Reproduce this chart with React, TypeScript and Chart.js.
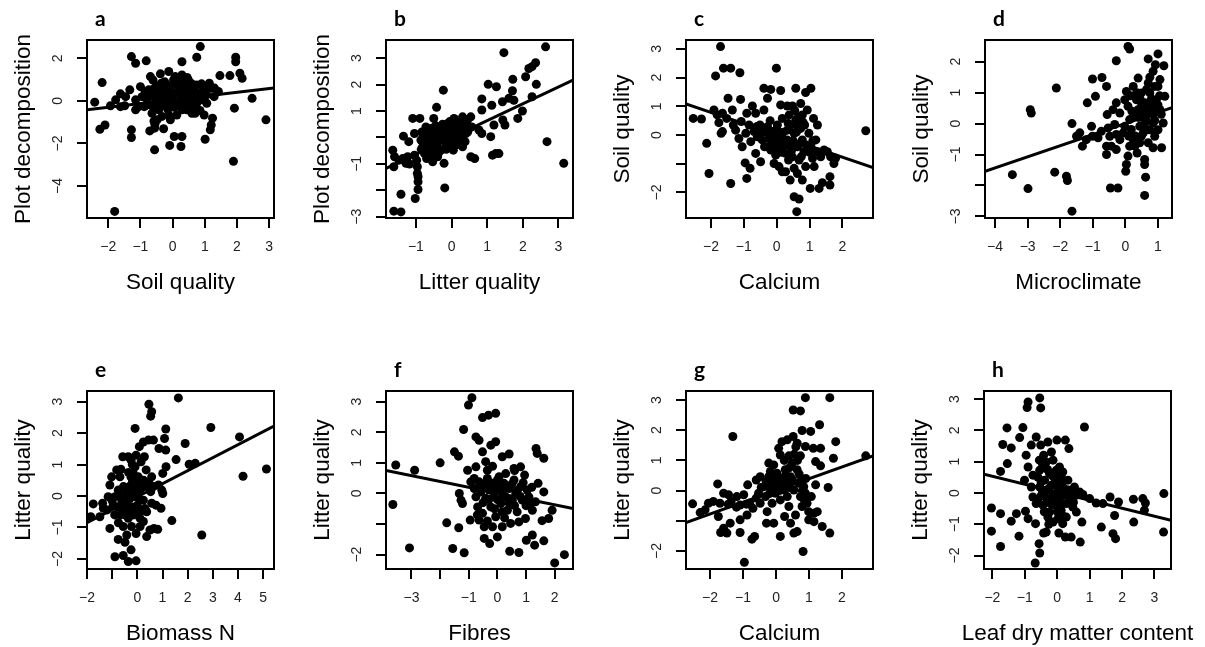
import React, { useEffect, useRef } from "react";
import { Chart, registerables } from "chart.js";

Chart.register(...registerables);

// ---------- DATA ----------
const panelLetters = ["a", "b", "c", "d", "e", "f", "g", "h"];
const xTitles = ["Soil quality", "Litter quality", "Calcium", "Microclimate", "Biomass N", "Fibres", "Calcium", "Leaf dry matter content"];
const yTitles = ["Plot decomposition", "Plot decomposition", "Soil quality", "Soil quality", "Litter quality", "Litter quality", "Litter quality", "Litter quality"];

const xRanges = [[-2.66, 3.15], [-1.84, 3.41], [-2.76, 2.93], [-4.31, 1.43], [-2.0, 5.43], [-3.89, 2.64], [-2.73, 2.94], [-2.26, 3.51]];
const yRanges = [[-5.5, 2.86], [-3.05, 3.69], [-2.89, 3.31], [-3.05, 2.7], [-2.32, 3.34], [-2.47, 3.35], [-2.6, 3.3], [-2.43, 3.26]];

const xTickValues = [[-2, -1, 0, 1, 2, 3], [-1, 0, 1, 2, 3], [-2, -1, 0, 1, 2], [-4, -3, -2, -1, 0, 1], [-2, -1, 0, 1, 2, 3, 4, 5], [-3, -2, -1, 0, 1, 2], [-2, -1, 0, 1, 2], [-2, -1, 0, 1, 2, 3]];
const yTickValues = [[-4, -2, 0, 2], [-3, -2, -1, 0, 1, 2, 3], [-2, -1, 0, 1, 2, 3], [-3, -2, -1, 0, 1, 2], [-2, -1, 0, 1, 2, 3], [-2, -1, 0, 1, 2, 3], [-2, -1, 0, 1, 2, 3], [-2, -1, 0, 1, 2, 3]];
const xHiddenLabels = [[], [], [], [], [-1], [-2], [], []];
const yHiddenLabels = [[], [0, -2], [-1], [-2], [], [-1], [-1], []];

const fitIntercepts = [0.05, 0.0, 0.01, 0.0, -0.02, 0.01, 0.0, 0.02];
const fitSlopes = [0.175, 0.636, -0.39, 0.357, 0.413, -0.19, 0.39, -0.255];

const aPoints = [[-1.80,-5.19],[1.89,-2.84],[2.90,-0.89],[2.47,0.12],[0.86,2.55],[0.75,2.05],[0.29,1.84],[-0.82,1.88],[-1.28,2.08],[-1.15,1.77],[1.96,2.05],[1.96,1.84],[2.09,1.30],[2.16,1.06],[1.47,1.19],[1.78,1.19],[1.92,-0.34],[-2.19,0.86],[-2.42,-0.06],[-2.26,-1.33],[-2.10,-1.13],[-1.28,-1.36],[-1.28,-1.72],[-0.56,-2.30],[-0.09,-2.09],[0.05,-1.67],[0.29,-1.67],[0.26,-2.14],[1.01,-1.80],[1.24,-0.81],[1.20,-1.13],[1.17,-1.36],[-0.56,-1.28],[-0.28,-1.31],[-0.71,-1.41],
[-1.77,0.05],[-1.93,-0.23],[-1.62,0.33],[-1.46,0.20],[-1.33,0.52],[-1.49,-0.23],[-1.15,0.05],[-1.15,-0.42],[-1.00,0.67],[-0.95,0.20],[-0.88,-0.27],[-0.79,0.05],[-0.61,0.98],[-0.57,0.59],[-0.54,0.28],[-0.48,-0.11],[-0.43,-0.42],[-0.38,1.27],[-0.35,0.83],[-0.28,0.44],[-0.23,0.05],[-0.18,-0.27],[-0.12,-0.66],[-0.07,-0.89],[-0.07,0.52],[-0.02,0.20],[0.03,0.98],[0.08,1.14],[0.13,-0.11],[0.19,0.67],[0.24,0.28],[0.29,1.22],[0.34,0.83],[0.39,0.05],[0.44,-0.42],[0.49,0.98],[0.55,0.52],[0.60,0.12],[0.65,-0.27],[0.70,-0.58],[0.75,0.75],[0.86,0.36],[0.91,0.05],[0.96,0.59],[0.98,-0.66],[1.06,-0.11],[1.14,0.83],[1.22,0.59],[1.29,0.20],[1.42,0.44],[0.29,-0.42],[0.13,-0.66],[-0.64,-0.58],[-0.48,-0.89],[-0.33,-0.73],[-1.05,-0.27],[-1.62,-0.27],[-0.74,0.52],[-0.18,0.75],[0.44,0.59],[0.60,-0.58],[0.75,-0.11],[1.06,0.28],[-0.69,1.14],[-0.12,1.38],[0.08,0.36],[-0.38,0.12],[-0.79,-0.19],
[-0.5,0.7],[-0.4,0.45],[-0.3,0.65],[-0.2,0.35],[-0.1,0.6],[0.0,0.4],[0.1,0.8],[0.2,0.5],[0.3,0.3],[0.4,0.65],[0.5,0.3],[0.6,0.8],[0.7,0.4],[0.8,0.1],[0.9,0.8],[1.0,0.35],[1.1,0.6],[-0.45,0.0],[-0.3,-0.2],[-0.15,-0.4],[0.05,-0.3],[0.2,-0.1],[0.35,-0.3],[0.5,-0.15],[0.7,-0.35],[0.85,-0.45],[-0.6,-0.3],[-0.55,0.15],[-0.25,0.9],[0.15,1.05],[0.45,1.1],[0.25,0.1],[-0.05,-0.05],[0.6,0.4],[1.3,0.6],[-0.7,0.3],[-0.85,0.45],[-0.58,-0.95],[-0.55,-1.1]];

const bPoints = [[2.64,3.43],[1.47,3.21],[2.36,2.83],[2.26,2.68],[2.17,2.61],[2.08,2.30],[2.38,2.01],[1.72,2.20],[1.71,1.77],[1.03,2.01],[1.26,1.92],[0.85,1.46],[1.13,1.22],[1.43,1.35],[1.61,1.48],[1.75,1.41],[2.26,1.54],[1.99,1.00],[1.86,0.72],[0.85,1.04],[1.44,0.66],[1.50,0.47],[1.19,0.47],[1.10,0.03],[0.85,0.15],[0.77,0.28],[0.57,0.40],[2.68,-0.16],[3.15,-0.98],[1.15,-0.67],[1.24,-0.61],[1.33,-0.61],[0.54,-0.73],[0.65,-0.80],
[-0.23,1.79],[-0.42,1.14],[-0.50,0.72],[-1.09,0.72],[-0.89,0.72],[-1.04,0.15],[-1.35,0.05],[-1.20,-0.16],[-1.65,-0.48],[-1.60,-0.73],[-1.48,-0.86],[-1.37,-0.80],[-1.23,-0.73],[-1.04,-0.67],[-0.98,-0.86],[-1.28,-0.98],[-1.18,-1.01],[-1.62,-1.11],[-0.96,-1.11],[-0.96,-1.36],[-0.94,-1.49],[-0.94,-1.68],[-0.94,-1.97],[-1.02,-2.31],[-1.42,-2.15],[-1.62,-2.79],[-1.42,-2.82],[-0.19,-1.91],[-0.21,-0.98],[-0.53,-0.92],[-0.39,-0.73],[0.05,-0.48],[0.31,-0.35],
[-0.86,-0.10],[-0.81,-0.35],[-0.76,-0.61],[-0.72,0.09],[-0.67,-0.23],[-0.62,-0.48],[-0.58,0.34],[-0.53,-0.04],[-0.48,-0.35],[-0.44,0.15],[-0.39,-0.16],[-0.34,0.40],[-0.30,-0.48],[-0.25,0.03],[-0.21,0.28],[-0.16,-0.23],[-0.11,0.53],[-0.07,0.15],[-0.02,-0.10],[0.03,0.40],[0.07,0.72],[0.12,0.15],[0.17,0.53],[0.21,-0.04],[0.26,0.28],[0.31,0.78],[0.35,0.47],[0.40,0.15],[0.45,0.66],[0.49,0.34],[0.54,0.78],[0.38,-0.16],[0.12,-0.29],[-0.16,0.09],[-0.72,0.40],[-0.83,0.21],[-0.30,0.21],[-0.44,-0.54],[-0.58,-0.73],[-0.07,-0.35],[0.21,-0.23],
[-0.75,-0.2],[-0.6,-0.05],[-0.5,0.2],[-0.4,-0.3],[-0.3,0.0],[-0.2,-0.1],[-0.1,0.3],[0.0,0.05],[0.1,0.35],[0.2,0.1],[0.3,0.0],[0.4,0.4],[-0.65,0.2],[-0.55,-0.35],[-0.35,-0.55],[-0.15,-0.45],[0.0,-0.2],[0.15,0.55],[0.25,0.6],[-0.45,0.45],[-0.25,0.5],[-0.85,-0.45],[-0.7,-0.8],[-0.05,0.6],[0.45,0.2],[-0.8,0.1]];

const cPoints = [[-1.71,3.08],[-1.86,2.06],[-1.62,2.33],[-1.40,2.33],[-1.12,2.17],[-0.01,2.33],[-1.48,1.28],[-1.10,1.24],[-2.54,0.58],[-2.29,0.56],[-2.13,-0.29],[-2.06,-1.34],[-1.40,-1.69],[-0.91,-1.51],[-0.81,-1.16],[-0.96,-0.97],[-0.49,-0.93],[-0.64,-0.64],[2.71,0.15],[0.61,-2.67],[0.53,-2.15],[0.68,-2.23],[1.02,-1.86],[1.29,-1.86],[1.39,-1.66],[1.62,-1.45],[1.62,-1.74],[1.74,-0.99],[1.79,-0.81],[0.78,-1.57],[0.63,-1.34],[0.41,-1.57],[0.17,-1.28],[-0.08,-0.99],[0.36,-0.87],
[-0.39,1.63],[-0.18,1.59],[0.12,1.55],[-0.28,1.28],[0.58,1.63],[1.04,1.63],[0.88,1.48],[0.73,1.10],[0.32,1.01],[0.48,1.01],[0.12,1.05],[0.93,0.87],[1.12,0.58],[1.24,0.35],[0.85,0.35],
[-1.91,0.87],[-1.81,0.70],[-1.76,0.43],[-1.65,0.76],[-1.52,0.58],[-1.69,0.06],[-1.65,0.12],[-1.35,0.87],[-1.32,0.35],[-1.25,0.17],[-1.08,0.47],[-1.15,-0.12],[-1.05,-0.41],[-0.94,0.06],[-0.91,0.76],[-0.84,0.35],[-0.74,1.01],[-0.69,0.12],[-0.64,0.76],[-0.59,-0.06],[-0.51,0.35],[-0.44,-0.17],[-0.39,0.87],[-0.37,-0.41],[-0.28,0.29],[-0.23,-0.12],[-0.18,-0.52],[-0.13,0.12],[-0.08,-0.29],[-0.03,-0.70],[0.02,0.35],[0.07,-0.06],[0.12,-0.47],[0.17,0.58],[0.22,-0.23],[0.27,-0.64],[0.32,0.17],[0.38,0.70],[0.43,-0.29],[0.48,-0.76],[0.53,0.06],[0.58,0.52],[0.63,-0.41],[0.68,-0.87],[0.73,0.23],[0.78,-0.17],[0.83,-0.58],[0.88,-1.10],[0.98,0.06],[1.04,-0.41],[1.09,-0.81],[1.14,-1.10],[1.19,-0.17],[1.24,-0.58],[1.34,-0.76],[1.44,-0.52],[1.54,-0.58],[1.64,-0.76],[0.27,-1.28],[0.07,-1.10],[0.53,-1.16],[0.63,0.35],[0.78,0.70],[0.32,-0.17],[-0.08,-0.06],[-0.28,-0.41],[-0.79,-0.23],
[-0.3,0.1],[-0.15,-0.3],[0.0,0.2],[0.1,-0.25],[0.2,0.1],[0.3,-0.35],[0.4,0.3],[0.5,-0.2],[0.6,0.1],[0.7,-0.3],[0.8,0.45],[0.9,-0.35],[-0.05,-0.45],[0.15,-0.6],[0.45,-0.55],[0.65,0.6],[0.55,0.85],[0.35,0.4],[-0.45,0.1],[-0.6,0.3],[-0.2,0.5],[1.0,-0.6],[1.1,-0.2],[0.75,-0.75]];

const dPoints = [[-1.64,-2.83],[-2.99,-2.10],[-3.47,-1.65],[-2.17,-1.57],[-1.81,-1.70],[-1.78,-1.84],[-2.92,0.45],[-2.89,0.34],[-2.12,1.15],[-1.64,0.00],[-1.01,1.44],[-0.72,1.49],[-0.92,0.88],[-1.17,0.67],[-0.28,2.03],[0.08,2.49],[0.13,2.41],[1.00,2.25],[0.70,2.09],[1.18,1.87],[0.92,1.90],[0.85,1.69],[0.39,1.47],[1.06,1.42],[-0.58,1.20],[0.03,1.04],[-0.46,-2.08],[-0.23,-2.08],[0.59,-2.32],[0.62,-1.73],[0.59,-1.32],[0.59,-1.16],[0.01,-1.54],[0.03,-1.32],[0.08,-1.05],[-0.58,-1.00],[-0.43,-0.73],[-0.58,-0.73],[-1.32,-0.73],[-1.04,-0.09],[-1.50,-0.41],[-1.40,-0.30],[-1.20,-0.52],[-1.01,-0.41],[-0.84,-0.46],[-0.74,-0.25],[-0.53,-0.14],[-0.48,-0.41],[-0.33,-0.03],[-0.28,-0.35],[-0.17,-0.52],[-0.07,-0.30],[-0.38,0.45],[-0.28,0.67],[-0.17,0.34],[-0.02,0.77],[0.08,0.56],[0.13,0.13],[0.18,-0.19],[0.24,-0.52],[0.29,-0.73],[0.34,0.77],[0.39,0.45],[0.44,-0.09],[0.49,-0.41],[0.54,0.24],[0.59,0.67],[0.64,-0.19],[0.70,-0.62],[0.75,0.99],[0.80,0.34],[0.85,0.02],[0.90,-0.41],[0.95,0.77],[1.00,1.20],[1.06,0.45],[1.11,-0.78],[1.16,0.02],[1.21,0.88],[0.85,-0.78],[0.44,-0.62],[0.24,1.20],[0.70,1.31],[0.13,-0.73],[0.36,-0.95],[0.85,0.61],[-0.02,-0.09],[0.29,0.24],[0.49,0.99],[0.59,0.02],[-0.28,-0.84],[-0.56,0.29],
[0.4,0.2],[0.5,0.6],[0.55,-0.3],[0.6,0.4],[0.65,0.1],[0.7,0.5],[0.75,-0.2],[0.8,0.8],[0.85,0.3],[0.9,0.1],[0.95,0.5],[1.0,-0.2],[1.05,0.9],[1.1,0.3],[0.3,-0.4],[0.2,0.4],[0.1,-0.4],[0.45,0.8],[0.65,1.1],[0.9,1.2],[0.75,1.5],[1.0,0.6],[0.35,1.0],[0.15,0.9]];

const ePoints = [[1.63,3.12],[0.46,2.92],[0.57,2.68],[0.53,2.54],[-0.09,2.15],[2.92,2.18],[1.13,2.13],[1.08,1.83],[1.90,1.67],[1.54,1.16],[2.30,1.04],[2.06,1.01],[4.06,1.88],[4.20,0.63],[5.13,0.86],[2.56,-1.24],[1.37,-0.78],[0.94,-0.39],[1.01,0.08],[0.97,0.19],[0.81,-1.06],[0.66,-1.03],[0.37,-1.29],[-0.05,-2.06],[-0.36,-2.08],[-0.25,-1.71],[-0.56,-1.89],[-0.89,-1.93],[-0.49,-1.47],[-0.42,-1.24],[-0.76,-1.38],[-1.09,-1.03],[-1.75,-0.25],[-1.85,-0.66],[-1.49,-0.66],[-1.38,-0.23],[-1.20,-0.44],[-1.09,0.35],[-1.02,0.61],[-0.82,0.83],[-0.69,0.61],[-0.58,1.25],[-0.36,1.25],[-0.25,1.14],[-0.16,0.72],[0.08,1.57],[0.24,1.72],[0.44,1.78],[0.64,1.78],[0.28,1.25],[0.15,1.09],[0.86,1.51],[1.13,1.46],[1.14,0.93],[1.01,0.72],[0.57,0.61],[0.35,0.83],[0.37,0.30],[0.53,0.14],[0.64,0.30],[0.84,0.35],[0.74,-0.29],[0.57,-0.23],[0.37,-0.50],[0.24,-0.81],[0.11,-0.97],[-0.05,-1.19],[-0.23,-0.97],[-0.36,-0.71],[-0.56,-0.97],[-0.69,-0.60],[-0.82,-0.34],[-0.89,-0.02],[-0.62,-0.13],[-0.45,0.08],[-0.32,0.30],[-0.19,0.46],[-0.09,-0.02],[0.00,-0.29],[0.08,0.19],[0.17,0.46],[-0.23,-0.34],[-0.42,-0.44],[-0.16,-0.60],[0.11,-0.50],[0.24,-0.13],[-0.29,-0.07],[-0.76,0.19],[-1.16,-0.02],[-0.96,-0.29],[-0.09,0.93],[0.04,0.61],[-0.62,-0.39],[0.50,-1.08],[-1.35,-0.39],
[-0.7,0.0],[-0.55,0.3],[-0.45,-0.2],[-0.35,0.05],[-0.25,0.6],[-0.15,0.2],[-0.05,0.35],[0.05,-0.05],[0.15,0.25],[0.25,0.5],[-0.5,-0.6],[-0.3,-0.5],[-0.1,-0.4],[0.1,-0.7],[0.3,-0.4],[-0.9,-0.6],[-1.0,-0.15],[-0.65,0.85],[-0.35,0.75],[-0.2,1.0],[-0.05,1.3],[-0.75,-0.85],[0.0,0.55],[0.45,0.45]];

const fPoints = [[-0.89,3.13],[-1.01,2.89],[-0.52,2.48],[-0.31,2.56],[-0.06,2.62],[-1.18,2.09],[-0.75,1.85],[-0.64,1.74],[-0.23,1.58],[-0.06,1.69],[-0.52,1.36],[-1.50,1.36],[-1.36,1.22],[-2.00,1.00],[-2.89,0.76],[-3.55,0.93],[-3.65,-0.36],[-3.07,-1.78],[-1.77,-0.96],[-1.35,-1.12],[-1.56,-1.80],[-1.16,-1.94],[-0.95,-0.87],[-0.46,-1.47],[-0.27,-1.64],[0.00,-1.42],[0.43,-1.89],[0.75,-1.93],[1.01,-1.53],[1.22,-1.36],[1.30,-1.69],[1.62,-1.55],[2.00,-2.27],[2.34,-2.00],[1.91,-0.55],[1.79,-0.82],[1.56,-0.89],[1.42,0.33],[1.62,0.05],[1.35,1.47],[1.39,1.31],[1.62,1.15],[0.17,1.20],[0.41,1.29],[0.81,0.87],[0.58,0.82],[-0.17,0.89],[-0.41,1.04],[-0.75,0.87],[-1.04,0.76],[-1.33,0.00],[-1.27,-0.22],[-1.22,-0.33],
[-0.93,0.38],[-0.81,0.16],[-0.75,-0.11],[-0.69,-0.44],[-0.64,0.38],[-0.58,0.05],[-0.52,-0.65],[-0.46,0.22],[-0.41,-0.16],[-0.35,0.49],[-0.29,0.11],[-0.23,-0.44],[-0.17,0.33],[-0.12,-0.11],[-0.06,-0.76],[0.00,0.44],[0.06,0.11],[0.12,-0.33],[0.17,-1.09],[0.23,0.33],[0.29,-0.11],[0.35,-0.55],[0.41,0.16],[0.46,-0.98],[0.52,-0.22],[0.58,0.44],[0.64,0.00],[0.69,-0.60],[0.75,-0.93],[0.81,0.22],[0.87,-0.22],[0.98,-0.82],[1.04,0.11],[1.10,-0.11],[1.16,-0.33],[1.22,-0.55],[1.33,-0.27],[0.29,0.65],[-0.35,0.76],[-0.46,-1.09],[-0.64,-0.87],[0.17,-0.60],[-0.17,-1.09],[-0.81,0.49],[0.06,0.55],
[-0.6,0.2],[-0.5,-0.3],[-0.4,0.35],[-0.3,-0.2],[-0.2,0.1],[-0.1,0.3],[0.0,-0.2],[0.1,0.3],[0.2,-0.05],[0.3,0.2],[0.4,-0.3],[0.5,0.3],[0.6,-0.4],[0.7,0.1],[0.8,-0.1],[0.9,0.35],[1.0,-0.4],[-0.7,-0.7],[-0.1,-0.5],[0.25,-0.8],[-0.35,-0.9],[1.2,0.2],[0.95,0.6],[0.6,0.75]];

const gPoints = [[0.89,3.08],[1.63,3.08],[0.52,2.67],[0.74,2.64],[1.32,2.18],[1.05,1.96],[0.79,1.99],[-1.31,1.79],[1.81,1.62],[1.74,1.07],[2.72,1.15],[1.35,1.40],[1.13,1.40],[0.89,1.46],[0.64,1.57],[0.52,1.79],[0.34,1.68],[0.18,1.62],[0.08,1.40],[0.13,1.18],[0.74,1.15],[0.39,1.15],[1.20,0.96],[1.35,0.82],[-0.22,0.91],[-0.07,0.85],[1.58,0.10],[1.20,0.19],[1.63,-1.41],[1.40,-1.19],[0.82,-2.02],[-0.96,-2.38],[0.13,-1.52],[0.54,-1.41],[0.64,-1.36],[1.15,-1.03],[0.99,-0.97],[0.44,-1.08],[0.26,-0.86],[-0.07,-1.08],[-0.29,-1.08],[-0.27,-0.70],[-0.65,-1.52],[-0.73,-1.61],[-1.09,-1.39],[-1.49,-1.41],[-1.68,-1.39],[-1.59,-1.25],[-1.39,-1.08],[-1.75,-0.86],[-1.77,0.22],[-2.53,-0.44],[-2.30,-0.73],[-2.15,-0.64],[-2.05,-0.42],[-1.90,-0.36],[-1.70,-0.42],[-1.59,-0.09],[-1.44,-0.14],[-1.36,-0.36],[-1.19,-0.20],[-1.09,-0.48],[-0.98,-0.14],[-1.09,-0.97],[-0.88,-0.81],[-0.86,0.19],[-0.80,-0.42],[-0.70,-0.59],[-0.60,0.35],[-0.53,-0.09],[-0.48,-0.42],[-0.37,0.13],[-0.32,-0.20],[-0.22,0.46],[-0.17,0.08],[-0.12,-0.42],[-0.07,0.30],[-0.02,-0.09],[0.03,0.57],[0.08,0.19],[0.13,-0.31],[0.18,0.41],[0.23,0.02],[0.28,0.69],[0.34,0.24],[0.39,-0.53],[0.44,0.46],[0.49,0.91],[0.54,0.02],[0.59,-0.81],[0.64,0.69],[0.69,0.24],[0.74,-0.20],[0.79,-0.53],[0.84,0.13],[0.89,-0.09],[0.94,-0.42],[0.99,-0.70],[1.07,-0.20],[1.15,-0.75],[1.25,-0.70],[0.34,-0.20],[-0.17,0.63],[-0.48,0.46],
[-0.3,0.3],[-0.2,-0.1],[-0.1,0.15],[0.0,0.4],[0.1,0.0],[0.2,0.25],[0.3,0.5],[0.4,0.1],[0.5,0.35],[0.55,1.2],[0.6,1.45],[0.65,1.0],[0.7,0.55],[0.75,0.3],[0.8,0.0],[0.85,-0.3],[0.9,0.4],[0.4,0.75],[0.25,1.0],[-0.45,0.1],[-0.6,-0.25],[-0.9,-0.45],[-1.2,-0.55],[-1.45,-0.45]];

const hPoints = [[-0.54,3.04],[-0.51,2.72],[-0.90,2.91],[-0.93,2.73],[0.84,2.11],[-1.55,2.08],[-1.06,2.09],[-1.68,1.55],[-1.42,1.44],[-1.16,1.77],[-0.65,1.79],[-0.80,1.53],[-0.51,1.53],[-0.29,1.63],[-0.01,1.69],[0.25,1.69],[0.36,1.42],[-0.96,1.21],[-0.42,1.21],[-0.18,1.31],[-1.54,0.94],[-1.75,0.69],[-0.90,0.83],[-0.54,0.73],[-0.34,0.99],[-0.13,1.05],[0.07,0.83],[0.17,0.67],[-1.01,0.41],[-0.75,0.57],[-2.03,-0.48],[-2.03,-1.22],[-1.75,-1.71],[-1.75,-0.66],[-1.42,-0.90],[-1.26,-0.66],[-1.18,-1.38],[-0.98,-0.58],[-0.90,-0.82],[-0.67,-0.98],[-0.56,-1.62],[-0.54,-1.92],[-0.68,-2.24],[-0.42,-1.28],[-0.26,-1.00],[-0.34,-1.25],[0.05,-1.28],[0.25,-1.41],[0.43,-1.41],[0.71,-1.57],[0.76,-0.93],[0.59,-0.61],[1.36,-1.09],[1.72,-1.30],[1.80,-1.46],[1.77,-0.72],[1.63,-0.13],[1.89,-0.29],[2.36,-0.93],[2.35,-0.20],[2.64,-0.18],[2.72,-0.32],[2.69,-0.55],[3.29,-0.02],[3.28,-1.25],[0.69,0.03],[0.79,-0.05],[1.00,-0.18],[1.20,-0.32],[1.41,-0.34],
[-0.54,0.19],[-0.49,-0.07],[-0.44,-0.39],[-0.39,0.41],[-0.34,0.09],[-0.29,-0.23],[-0.24,-0.61],[-0.18,0.25],[-0.13,-0.07],[-0.08,-0.39],[-0.03,0.46],[0.02,0.09],[0.07,-0.18],[0.12,-0.55],[0.17,0.19],[0.23,-0.07],[0.28,-0.34],[0.33,0.41],[0.38,0.09],[0.43,-0.18],[0.48,-0.45],[0.53,0.19],[0.59,-0.07],[-0.13,-0.93],[0.02,-0.82],[0.17,-0.98],[-0.29,-0.77],[0.28,-0.77],[-0.75,-0.13],[-0.65,-0.34],[-0.80,0.19],[-0.60,0.51],[-0.03,0.73],[-0.24,0.62],
[-0.5,0.35],[-0.45,0.05],[-0.35,-0.15],[-0.25,0.15],[-0.2,-0.35],[-0.1,0.3],[-0.05,-0.2],[0.05,0.3],[0.1,-0.05],[0.15,-0.35],[0.2,0.4],[0.3,0.1],[0.35,-0.1],[0.45,0.05],[0.5,-0.3],[-0.4,-0.6],[0.0,-0.6],[0.2,-0.75],[-0.15,0.55],[0.1,0.55],[-0.6,-0.2],[-0.3,0.75],[-0.45,0.9],[-0.55,1.05]];

const panelPoints = [aPoints, bPoints, cPoints, dPoints, ePoints, fPoints, gPoints, hPoints];

// ---------- LAYOUT (not data) ----------
const panelLefts = [0, 299, 599, 898, 0, 299, 599, 897];
const panelTops = [0, 0, 0, 0, 351, 351, 351, 351];

const FONT = '"Liberation Sans", Arial, Helvetica, sans-serif';

const fmt = (v: number) => (v < 0 ? "\u2212" + Math.abs(v) : String(v));

function makeDecorPlugin(letter: string, xTitle: string) {
  return {
    id: "decor",
    afterDraw(chart: any) {
      const { ctx, chartArea } = chart;
      const { left, top, right, bottom } = chartArea;
      ctx.save();
      ctx.strokeStyle = "#000";
      ctx.lineWidth = 2;
      ctx.strokeRect(left, top, right - left, bottom - top);
      ctx.fillStyle = "#000";
      ctx.font = 'bold 21px Lato, "Liberation Sans", sans-serif';
      ctx.textBaseline = "alphabetic";
      ctx.textAlign = "left";
      ctx.fillText(letter, left + 8, top - 14);
      ctx.font = "22.5px " + FONT;
      ctx.textAlign = "center";
      ctx.textBaseline = "middle";
      ctx.fillText(xTitle, (left + right) / 2, bottom + 65);
      ctx.restore();
    },
  };
}

function Panel({ idx }: { idx: number }) {
  const ref = useRef<HTMLCanvasElement | null>(null);
  useEffect(() => {
    if (!ref.current) return;
    const [xMin, xMax] = xRanges[idx];
    const [yMin, yMax] = yRanges[idx];
    const b0 = fitIntercepts[idx];
    const b1 = fitSlopes[idx];
    const pts = panelPoints[idx].map(([x, y]) => ({ x, y }));
    const fit = [
      { x: xMin, y: b0 + b1 * xMin },
      { x: xMax, y: b0 + b1 * xMax },
    ];
    const xt = xTickValues[idx];
    const yt = yTickValues[idx];
    const xh = xHiddenLabels[idx];
    const yh = yHiddenLabels[idx];
    const chart = new Chart(ref.current, {
      type: "scatter",
      data: {
        datasets: [
          {
            data: pts,
            pointRadius: 4.5,
            pointBorderWidth: 0,
            backgroundColor: "#000",
            borderColor: "#000",
            order: 2,
          },
          {
            data: fit,
            showLine: true,
            pointRadius: 0,
            borderColor: "#000",
            borderWidth: 3,
            order: 1,
          } as any,
        ],
      },
      options: {
        responsive: false,
        animation: false,
        devicePixelRatio: 1,
        events: [],
        layout: { padding: { left: 0, top: 40, right: 26, bottom: 0 } },
        plugins: { legend: { display: false }, tooltip: { enabled: false } },
        scales: {
          x: {
            type: "linear",
            min: xMin,
            max: xMax,
            afterBuildTicks: (s: any) => {
              s.ticks = xt.map((v) => ({ value: v }));
            },
            afterFit: (s: any) => {
              s.height = 82;
            },
            ticks: {
              autoSkip: false,
              minRotation: 0,
              maxRotation: 0,
              padding: 11,
              color: "#222",
              font: { family: FONT, size: 14 },
              callback: (v: any) => (xh.includes(Number(v)) ? "" : fmt(Number(v))),
            },
            grid: { drawOnChartArea: false, drawTicks: true, tickLength: 10, lineWidth: 2, color: "#000" },
            border: { display: false },
            title: { display: false },
          },
          y: {
            type: "linear",
            min: yMin,
            max: yMax,
            afterBuildTicks: (s: any) => {
              s.ticks = yt.map((v) => ({ value: v }));
            },
            afterFit: (s: any) => {
              s.width = 87;
            },
            ticks: {
              autoSkip: false,
              minRotation: 90,
              maxRotation: 90,
              crossAlign: "center",
              padding: 11,
              color: "#222",
              font: { family: FONT, size: 14 },
              callback: (v: any) => (yh.includes(Number(v)) ? "" : fmt(Number(v))),
            },
            grid: { drawOnChartArea: false, drawTicks: true, tickLength: 10, lineWidth: 2, color: "#000" },
            border: { display: false },
            title: {
              display: true,
              text: yTitles[idx],
              color: "#000",
              font: { family: FONT, size: 22.5 },
              padding: { top: 10, bottom: 0 },
            },
          },
        },
      } as any,
      plugins: [makeDecorPlugin(panelLetters[idx], xTitles[idx])],
    });
    return () => chart.destroy();
  }, [idx]);
  return (
    <canvas
      ref={ref}
      width={300}
      height={300}
      style={{ position: "absolute", left: panelLefts[idx], top: panelTops[idx], width: 300, height: 300 }}
    />
  );
}

export default function App() {
  return (
    <div
      style={{
        position: "fixed",
        left: 0,
        top: 0,
        width: 1205,
        height: 647,
        overflow: "hidden",
        background: "#fff",
      }}
    >
      {panelLetters.map((_, i) => (
        <Panel key={i} idx={i} />
      ))}
    </div>
  );
}
